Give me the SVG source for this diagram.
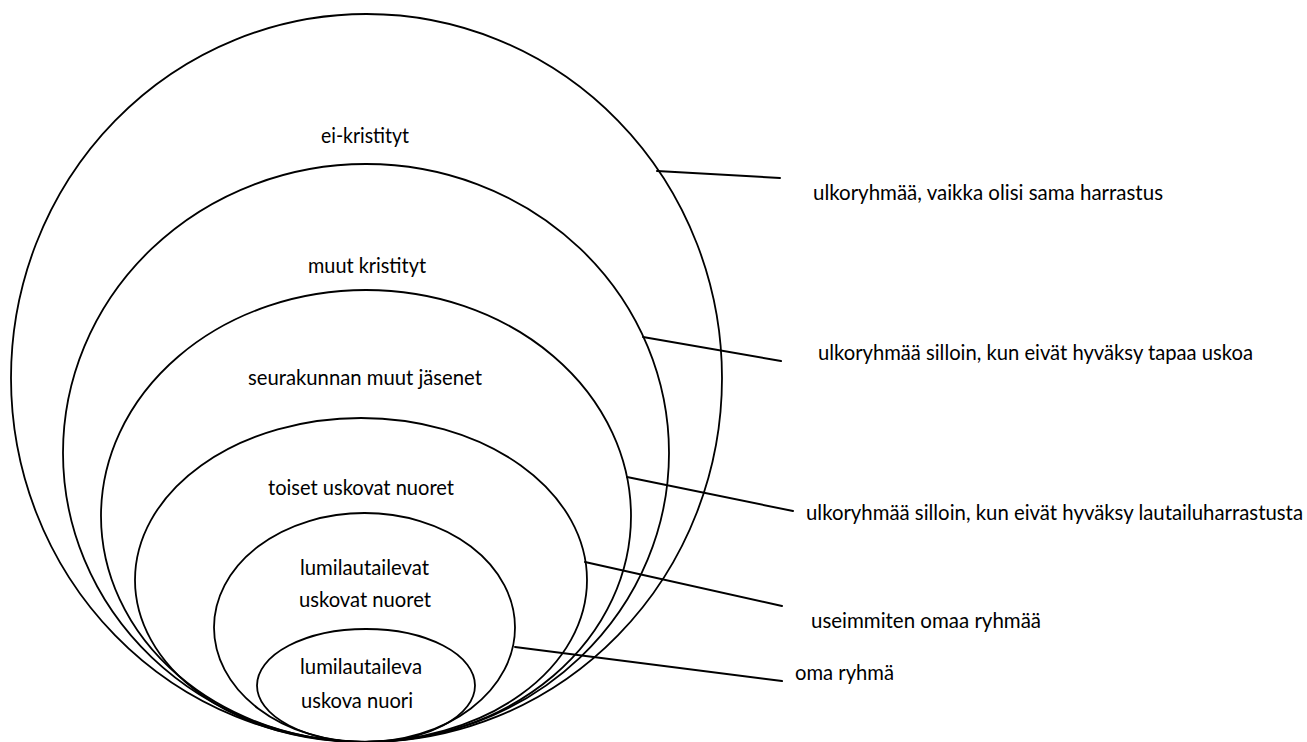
<svg xmlns="http://www.w3.org/2000/svg" width="1307" height="742" viewBox="0 0 1307 742">
<style>
.ring{fill:none;stroke:#000;stroke-width:1.8}
.con line{stroke:#000;stroke-width:2;stroke-linecap:round}
text{font-family:Lato,"Open Sans","Liberation Sans",sans-serif;font-size:20.5px;fill:#000}
.c{text-anchor:middle}
</style>
<rect width="1307" height="742" fill="#fff"/>
<g id="ring-ei-kristityt">
<ellipse class="ring" cx="366.5" cy="378" rx="355.5" ry="364"/>
<text class="c" x="365" y="143" textLength="88" lengthAdjust="spacingAndGlyphs">ei-kristityt</text>
</g>
<g id="ring-muut-kristityt">
<ellipse class="ring" cx="366" cy="453" rx="303" ry="289"/>
<text class="c" x="367" y="273" textLength="118" lengthAdjust="spacingAndGlyphs">muut kristityt</text>
</g>
<g id="ring-seurakunta">
<ellipse class="ring" cx="366" cy="516" rx="265" ry="226"/>
<text class="c" x="365" y="385" textLength="234" lengthAdjust="spacingAndGlyphs">seurakunnan muut jäsenet</text>
</g>
<g id="ring-toiset">
<ellipse class="ring" cx="361" cy="580" rx="226" ry="162"/>
<text class="c" x="361" y="495" textLength="186" lengthAdjust="spacingAndGlyphs">toiset uskovat nuoret</text>
</g>
<g id="ring-lumilautailevat">
<ellipse class="ring" cx="364.5" cy="627.5" rx="150.5" ry="114.5"/>
<text x="300" y="575" textLength="129" lengthAdjust="spacingAndGlyphs">lumilautailevat</text>
<text x="299" y="607" textLength="132" lengthAdjust="spacingAndGlyphs">uskovat nuoret</text>
</g>
<g id="ring-oma">
<ellipse class="ring" cx="366" cy="685.5" rx="109" ry="56.5"/>
<text x="300" y="674" textLength="122" lengthAdjust="spacingAndGlyphs">lumilautaileva</text>
<text x="301" y="708" textLength="112" lengthAdjust="spacingAndGlyphs">uskova nuori</text>
</g>
<g id="connectors" class="con">
<line x1="657" y1="171" x2="780" y2="178"/>
<line x1="643" y1="337" x2="781" y2="361"/>
<line x1="627" y1="477" x2="793" y2="511"/>
<line x1="585" y1="562" x2="782" y2="606"/>
<line x1="515" y1="647" x2="782" y2="681"/>
</g>
<g id="label-1"><text x="813" y="200" textLength="350" lengthAdjust="spacingAndGlyphs">ulkoryhmää, vaikka olisi sama harrastus</text></g>
<g id="label-2"><text x="818" y="360" textLength="435" lengthAdjust="spacingAndGlyphs">ulkoryhmää silloin, kun eivät hyväksy tapaa uskoa</text></g>
<g id="label-3"><text x="806" y="520" textLength="497" lengthAdjust="spacingAndGlyphs">ulkoryhmää silloin, kun eivät hyväksy lautailuharrastusta</text></g>
<g id="label-4"><text x="811" y="628" textLength="230" lengthAdjust="spacingAndGlyphs">useimmiten omaa ryhmää</text></g>
<g id="label-5"><text x="795" y="680" textLength="99" lengthAdjust="spacingAndGlyphs">oma ryhmä</text></g>
</svg>
